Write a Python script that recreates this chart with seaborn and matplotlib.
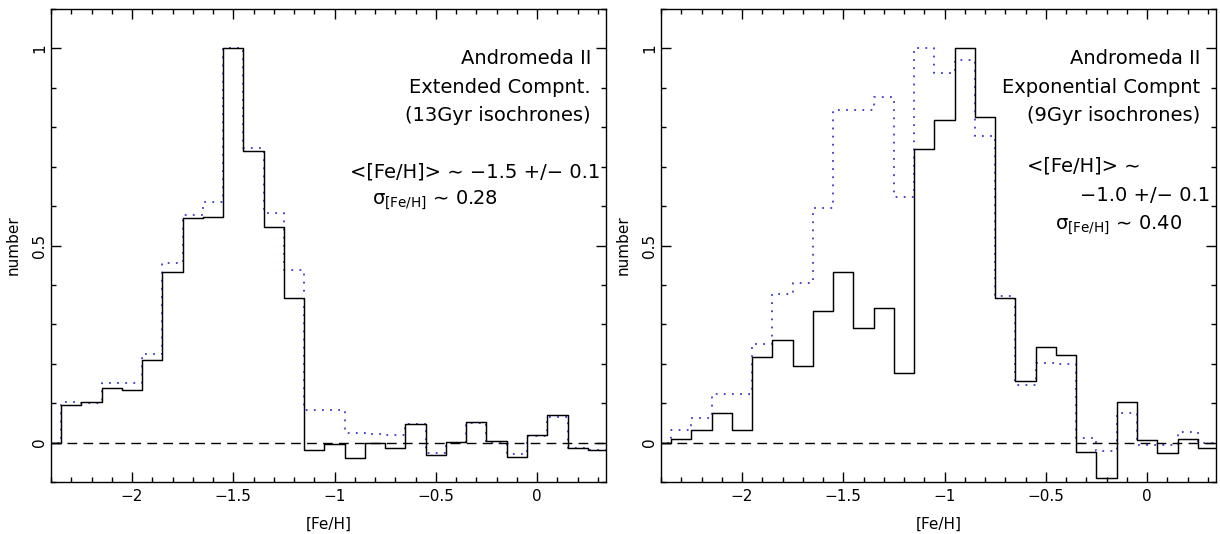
import numpy as np
import pandas as pd
import seaborn as sns
import matplotlib.pyplot as plt
from matplotlib.ticker import MultipleLocator, FuncFormatter

# bin centres in [Fe/H], width 0.1
feh = [-2.4, -2.3, -2.2, -2.1, -2.0, -1.9, -1.8, -1.7, -1.6, -1.5,
       -1.4, -1.3, -1.2, -1.1, -1.0, -0.9, -0.8, -0.7, -0.6, -0.5,
       -0.4, -0.3, -0.2, -0.1, 0.0, 0.1, 0.2, 0.3]

ext_solid = [0.0, 0.095, 0.103, 0.139, 0.134, 0.209, 0.434, 0.571, 0.573, 1.0,
             0.741, 0.547, 0.368, -0.019, -0.003, -0.038, -0.002, -0.015, 0.046, -0.032,
             0.002, 0.051, 0.003, -0.036, 0.019, 0.069, -0.015, -0.019]
ext_dotted = [0.0, 0.103, 0.100, 0.152, 0.152, 0.226, 0.455, 0.577, 0.610, 1.0,
              0.747, 0.582, 0.437, 0.083, 0.083, 0.025, 0.022, 0.018, 0.048, -0.027,
              0.0, 0.049, 0.0, -0.030, 0.017, 0.066, -0.015, -0.019]

exp_solid = [0.0, 0.008, 0.031, 0.074, 0.031, 0.218, 0.259, 0.194, 0.335, 0.433,
             0.290, 0.342, 0.176, 0.746, 0.819, 1.0, 0.826, 0.368, 0.156, 0.243,
             0.222, -0.025, -0.089, 0.103, 0.007, -0.027, 0.010, -0.013]
exp_dotted = [0.0, 0.031, 0.062, 0.124, 0.124, 0.251, 0.376, 0.406, 0.594, 0.845,
              0.845, 0.876, 0.624, 1.0, 0.937, 0.970, 0.779, 0.372, 0.145, 0.203,
              0.200, 0.012, -0.021, 0.076, -0.005, -0.007, 0.027, -0.002]

left_title = ["Andromeda II", "Extended Compnt.", "(13Gyr isochrones)"]
right_title = ["Andromeda II", "Exponential Compnt", "(9Gyr isochrones)"]

sns.set_theme(style="ticks")
plt.rcParams['font.family'] = ['DejaVu Sans']
plt.rcParams['mathtext.fontset'] = 'dejavusans'
for k in ['text.color', 'axes.labelcolor', 'xtick.color', 'ytick.color',
          'xtick.labelcolor', 'ytick.labelcolor']:
    plt.rcParams[k] = 'black'

edges = list(np.append(np.array(feh) - 0.05, feh[-1] + 0.05))

fig = plt.figure(figsize=(12.2, 5.34), dpi=100)
ax1 = fig.add_axes([51 / 1220, 52 / 534, 555 / 1220, 473 / 534])
ax2 = fig.add_axes([661 / 1220, 52 / 534, 555 / 1220, 473 / 534])

fmt = FuncFormatter(lambda v, p: ("%g" % v).replace("-", "\u2212"))


def panel(ax, solid, dotted):
    df = pd.DataFrame({"feh": feh, "solid": solid, "dotted": dotted})
    sns.histplot(data=df, x="feh", weights="dotted", bins=edges, element="step", fill=False,
                 color="#3a3ac8", linestyle=(0, (1, 3.5)), linewidth=1.3, ax=ax)
    sns.histplot(data=df, x="feh", weights="solid", bins=edges, element="step", fill=False,
                 color="black", linewidth=1.05, ax=ax)
    ax.axhline(0, color="black", linestyle=(0, (7, 4.5)), linewidth=1.0)
    ax.set_xlim(-2.4, 0.34)
    ax.set_ylim(-0.1, 1.1)
    ax.xaxis.set_major_locator(MultipleLocator(0.5))
    ax.xaxis.set_minor_locator(MultipleLocator(0.1))
    ax.yaxis.set_major_locator(MultipleLocator(0.5))
    ax.yaxis.set_minor_locator(MultipleLocator(0.1))
    ax.xaxis.set_major_formatter(fmt)
    ax.yaxis.set_major_formatter(fmt)
    ax.tick_params(which="both", direction="in", top=True, right=True,
                   color="black", width=1.0, labelsize=11)
    ax.tick_params(which="major", length=7)
    ax.tick_params(which="minor", length=3.5)
    ax.tick_params(axis="x", pad=5)
    ax.tick_params(axis="y", pad=3)
    for lab in ax.get_yticklabels():
        lab.set_rotation(90)
        lab.set_va("center")
    for s in ax.spines.values():
        s.set_color("black")
        s.set_linewidth(1.0)
    ax.set_xlabel("[Fe/H]", fontsize=11, labelpad=9)
    ax.set_ylabel("number", fontsize=11, labelpad=8)


panel(ax1, ext_solid, ext_dotted)
panel(ax2, exp_solid, exp_dotted)

sim = "\u223c"
sig = "\u03c3$_{\\rm [Fe/H]}$ " + sim
fs = 14
for i, t in enumerate(left_title):
    ax1.text(0.973, 0.896 - i * 0.061, t, transform=ax1.transAxes,
             ha="right", va="center", fontsize=fs)
ax1.text(0.989, 0.655, "<[Fe/H]> " + sim + " \u22121.5 +/\u2212 0.1", transform=ax1.transAxes,
         ha="right", va="center", fontsize=fs)
ax1.text(0.578, 0.596, sig + " 0.28",
         transform=ax1.transAxes, ha="left", va="center", fontsize=fs)

for i, t in enumerate(right_title):
    ax2.text(0.971, 0.896 - i * 0.061, t, transform=ax2.transAxes,
             ha="right", va="center", fontsize=fs)
ax2.text(0.659, 0.668, "<[Fe/H]> " + sim, transform=ax2.transAxes,
         ha="left", va="center", fontsize=fs)
ax2.text(0.989, 0.605, "\u22121.0 +/\u2212 0.1", transform=ax2.transAxes,
         ha="right", va="center", fontsize=fs)
ax2.text(0.71, 0.543, sig + " 0.40",
         transform=ax2.transAxes, ha="left", va="center", fontsize=fs)

fig.savefig("out.png", dpi=100, facecolor="white")
